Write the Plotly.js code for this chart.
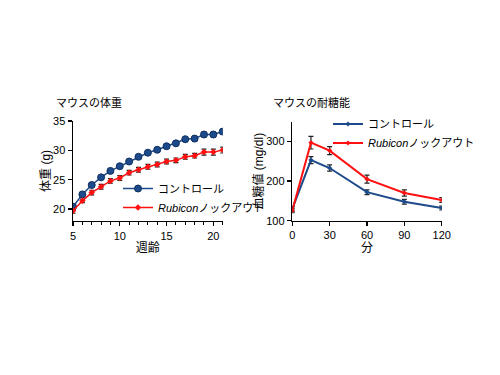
<!DOCTYPE html>
<html><head><meta charset="utf-8">
<script src="https://cdn.plot.ly/plotly-3.0.1.min.js"></script>
<style>body{margin:0;background:#fff}#c{width:500px;height:375px}</style>
</head><body><div id="c"></div>
<script>
// Left chart: body weight
const weeks = [5,6,7,8,9,10,11,12,13,14,15,16,17,18,19,20,21];
const ctrlWeight = [20.4,22.5,24.1,25.4,26.5,27.3,28.1,28.9,29.6,30.1,30.7,31.2,31.9,32.0,32.7,32.7,33.2];
const ctrlWeightErr = [0.3,0.3,0.3,0.3,0.3,0.3,0.3,0.3,0.3,0.3,0.3,0.3,0.3,0.4,0.4,0.4,0.4];
const koWeight = [19.7,21.4,22.8,23.8,24.8,25.3,26.2,26.7,27.2,27.6,28.1,28.3,28.9,29.1,29.7,29.7,30.05];
const koWeightErr = [0.4,0.3,0.4,0.4,0.4,0.4,0.4,0.4,0.4,0.4,0.4,0.4,0.4,0.4,0.5,0.5,0.5];
// Right chart: glucose tolerance
const minutes = [0,15,30,60,90,120];
const ctrlGlucose = [130,253,233,172,148,132];
const ctrlGlucoseErr = [6,9,8,6,6,5];
const koGlucose = [126,297,277,205,170,152];
const koGlucoseErr = [6,16,10,10,8,6];

const seriesNames = ['コントロール', '<i>Rubicon</i>ノックアウト'];
const titles = ['マウスの体重', 'マウスの耐糖能'];
const xTitles = ['週齢', '分'];
const yTitles = ['体重 (g)', '血糖値 (mg/dl)'];

const BLUE = '#1d4a8a', RED = '#ff1010';
const FONT = 'Liberation Sans, Arial, Noto Sans CJK JP, sans-serif';
const eb = (arr) => ({type:'data', array:arr, visible:true, color:'#222', thickness:1.2, width:2.5});

const traces = [
  {x:weeks, y:ctrlWeight, error_y:eb(ctrlWeightErr), name:seriesNames[0], mode:'lines+markers',
   line:{color:BLUE, width:1.5}, marker:{symbol:'circle', size:7, color:BLUE, line:{color:'#0f2f60', width:1}},
   xaxis:'x', yaxis:'y', legend:'legend'},
  {x:weeks, y:koWeight, error_y:eb(koWeightErr), name:seriesNames[1], mode:'lines+markers',
   line:{color:RED, width:1.5}, marker:{symbol:'diamond', size:5, color:RED},
   xaxis:'x', yaxis:'y', legend:'legend'},
  {x:minutes, y:ctrlGlucose, error_y:eb(ctrlGlucoseErr), name:seriesNames[0], mode:'lines+markers',
   line:{color:BLUE, width:2}, marker:{symbol:'diamond', size:4, color:BLUE},
   xaxis:'x2', yaxis:'y2', legend:'legend2'},
  {x:minutes, y:koGlucose, error_y:eb(koGlucoseErr), name:seriesNames[1], mode:'lines+markers',
   line:{color:RED, width:2}, marker:{symbol:'diamond', size:4, color:RED},
   xaxis:'x2', yaxis:'y2', legend:'legend2'}
];

const axBase = {showline:true, linecolor:'#000', linewidth:1.5, ticks:'outside', ticklen:4, tickwidth:1.2,
  tickcolor:'#000', showgrid:false, zeroline:false, tickfont:{family:FONT, size:11, color:'#000'}};

const layout = {
  width:500, height:375, margin:{l:0,r:0,t:0,b:0}, paper_bgcolor:'#fff', plot_bgcolor:'#fff',
  font:{family:FONT, color:'#000'},
  xaxis: Object.assign({}, axBase, {domain:[0.146,0.4454], range:[5,21], tickvals:[5,10,15,20],
    minor:{dtick:1, tick0:5, ticks:'outside', ticklen:3, tickwidth:1, tickcolor:'#000'},
    anchor:'y', title:{text:xTitles[0], font:{size:12}, standoff:3}}),
  yaxis: Object.assign({}, axBase, {domain:[0.4112,0.6773], range:[18,35], tickvals:[20,25,30,35],
    anchor:'x', title:{text:yTitles[0], font:{size:12}, standoff:0}}),
  xaxis2: Object.assign({}, axBase, {domain:[0.5846,0.8834], range:[0,120], tickvals:[0,30,60,90,120],
    anchor:'y2', title:{text:xTitles[1], font:{size:12}, standoff:3}}),
  yaxis2: Object.assign({}, axBase, {domain:[0.4115,0.6755], range:[100,350], tickvals:[100,200,300],
    anchor:'x2', title:{text:yTitles[1], font:{size:12}, standoff:0}}),
  legend:{x:0.236, y:0.536, xanchor:'left', yanchor:'top', bgcolor:'rgba(0,0,0,0)', itemwidth:30,
    font:{family:FONT, size:11}, tracegroupgap:0},
  legend2:{x:0.656, y:0.708, xanchor:'left', yanchor:'top', bgcolor:'rgba(0,0,0,0)', itemwidth:30,
    font:{family:FONT, size:11}, tracegroupgap:0},
  annotations:[
    {text:titles[0], xref:'paper', yref:'paper', x:0.108, y:(375-103)/375, xanchor:'left', yanchor:'middle', showarrow:false, font:{size:11}},
    {text:titles[1], xref:'paper', yref:'paper', x:0.542, y:(375-103)/375, xanchor:'left', yanchor:'middle', showarrow:false, font:{size:11}}
  ]
};
Plotly.newPlot('c', traces, layout, {displayModeBar:false, staticPlot:true});
</script></body></html>
